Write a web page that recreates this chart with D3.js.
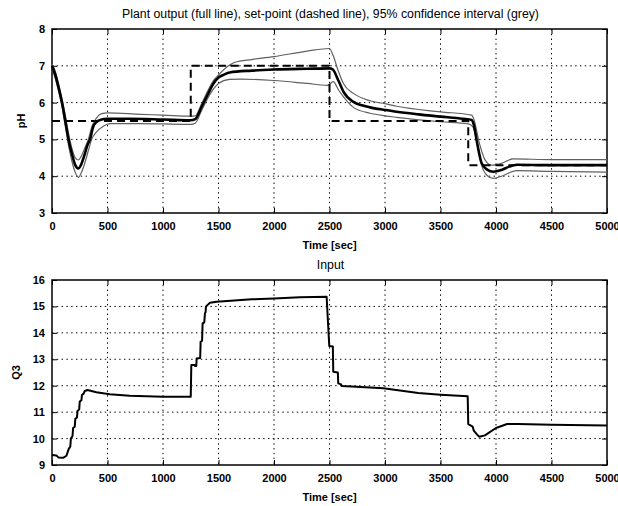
<!DOCTYPE html>
<html>
<head>
<meta charset="utf-8">
<script src="https://cdn.jsdelivr.net/npm/d3@7"></script>
<style>
  body { margin: 0; background: #fff; }
  svg { font-family: "Liberation Sans", Arial, sans-serif; }
  .tick text { font-size: 11px; font-weight: bold; fill: #000; }
  .grid line { stroke: #000; stroke-width: 1; stroke-dasharray: 1.4,3.4; }
</style>
</head>
<body>
<svg width="618" height="506"></svg>
<script>
// plant output (pH) and its confidence band
const tOut = [0,30,60,90,120,150,180,210,237,260,290,320,342,372,400,432,500,700,1000,1250,1290,1350,1400,1450,1500,1550,1600,1800,2000,2300,2500,2530,2580,2625,2715,2800,2865,3000,3105,3300,3500,3700,3780,3800,3830,3871,3920,3976,4050,4120,4186,4500,5000];
const pHOut = [7.0,6.75,6.4,6.0,5.5,4.98,4.6,4.3,4.21,4.3,4.55,4.85,5.0,5.35,5.47,5.53,5.56,5.56,5.54,5.52,5.55,5.9,6.2,6.5,6.68,6.76,6.82,6.87,6.9,6.92,6.93,6.9,6.6,6.3,6.02,5.92,5.87,5.8,5.75,5.68,5.62,5.56,5.53,5.4,4.9,4.35,4.18,4.12,4.17,4.26,4.31,4.3,4.3];

const tUp = [0,30,60,90,120,150,180,210,237,265,300,327,360,400,447,500,800,1000,1250,1290,1350,1400,1450,1500,1600,1664,1800,2000,2300,2500,2530,2580,2625,2715,2865,3000,3105,3500,3780,3800,3850,3900,3960,4050,4153,4500,5000];
const pHUp = [7.05,6.85,6.5,6.1,5.65,5.15,4.75,4.5,4.44,4.55,4.8,5.0,5.35,5.58,5.7,5.72,5.68,5.66,5.63,5.64,5.98,6.3,6.58,6.75,7.02,7.11,7.17,7.25,7.4,7.47,7.3,6.85,6.52,6.25,6.05,5.97,5.9,5.75,5.66,5.55,4.9,4.45,4.3,4.35,4.47,4.45,4.45];

const tLo = [0,30,60,90,120,150,180,210,237,265,300,330,357,400,462,520,800,1000,1250,1290,1350,1400,1450,1500,1600,1700,2000,2300,2480,2535,2580,2625,2715,2865,3000,3105,3500,3750,3790,3830,3870,3920,3976,4050,4186,4500,5000];
const pHLo = [6.95,6.65,6.3,5.9,5.35,4.82,4.4,4.1,3.97,4.1,4.4,4.72,5.0,5.2,5.36,5.43,5.43,5.42,5.41,5.44,5.8,6.1,6.35,6.52,6.63,6.64,6.6,6.52,6.47,6.57,6.35,6.16,5.87,5.71,5.64,5.6,5.48,5.42,5.35,4.9,4.3,4.02,3.94,4.0,4.15,4.13,4.11];

// set-point
const tSp = [0,1250,2500,3750,5000];
const pHSp = [5.5,7,5.5,4.3,4.3];

// input Q3
const tQ3 = [0,40,60,100,130,150,165,170,185,190,205,210,225,230,245,250,265,270,285,295,320,400,520,700,1000,1250,1255,1285,1288,1300,1303,1335,1339,1352,1357,1372,1378,1384,1387,1400,1423,1483,1800,2000,2234,2474,2498,2530,2534,2575,2579,2605,2610,2700,2985,3300,3500,3745,3750,3790,3800,3830,3850,3900,4000,4100,4200,4500,5000];
const vQ3 = [9.38,9.36,9.28,9.27,9.35,9.6,9.7,10.0,10.1,10.4,10.45,10.75,10.8,11.05,11.1,11.4,11.45,11.65,11.7,11.8,11.84,11.75,11.68,11.62,11.58,11.58,12.78,12.78,12.75,12.75,13.03,13.05,13.67,13.7,14.36,14.4,14.74,14.78,14.99,15.05,15.14,15.18,15.27,15.3,15.35,15.37,13.5,13.48,12.53,12.5,12.09,12.05,11.99,11.97,11.9,11.72,11.66,11.6,10.55,10.45,10.3,10.15,10.07,10.12,10.4,10.55,10.55,10.52,10.49];

const xTicks = d3.range(0, 5001, 500);

const svg = d3.select("svg");
const left = 52, right = 607;

function panel(top, bottom, yDomain, yTicks, title, ylab, ylabX) {
  const x = d3.scaleLinear().domain([0, 5000]).range([left, right]);
  const y = d3.scaleLinear().domain(yDomain).range([bottom, top]);
  const g = svg.append("g");

  // dotted grid
  g.append("g").attr("class", "grid")
    .selectAll("line.v").data(xTicks.slice(1, -1)).join("line")
    .attr("x1", d => x(d)).attr("x2", d => x(d)).attr("y1", top).attr("y2", bottom);
  g.append("g").attr("class", "grid")
    .selectAll("line.h").data(yTicks.slice(1, -1)).join("line")
    .attr("x1", left).attr("x2", right).attr("y1", d => y(d)).attr("y2", d => y(d));

  // axes with inward ticks
  g.append("g").attr("transform", `translate(0,${bottom})`)
    .call(d3.axisBottom(x).tickValues(xTicks).tickSize(-5).tickPadding(9).tickFormat(d3.format("d")));
  g.append("g").attr("transform", `translate(${left},0)`)
    .call(d3.axisLeft(y).tickValues(yTicks).tickSize(-5).tickPadding(7).tickFormat(d3.format("d")));
  g.append("g").attr("transform", `translate(0,${top})`)
    .call(d3.axisTop(x).tickValues(xTicks).tickSize(-5).tickFormat(""));
  g.append("g").attr("transform", `translate(${right},0)`)
    .call(d3.axisRight(y).tickValues(yTicks).tickSize(-5).tickFormat(""));
  g.selectAll(".domain").remove();
  g.selectAll(".tick line").attr("stroke", "#000").attr("stroke-width", 1);

  g.append("rect").attr("x", left).attr("y", top)
    .attr("width", right - left).attr("height", bottom - top)
    .attr("fill", "none").attr("stroke", "#000").attr("stroke-width", 1.5);

  g.append("text").attr("x", (left + right) / 2 + 1).attr("y", top - 11)
    .attr("text-anchor", "middle").attr("font-size", 12.3).text(title);
  g.append("text").attr("x", (left + right) / 2).attr("y", bottom + 36)
    .attr("text-anchor", "middle").attr("font-size", 11).attr("font-weight", "bold").text("Time [sec]");
  g.append("text").attr("transform", `translate(${ylabX},${(top + bottom) / 2}) rotate(-90)`)
    .attr("text-anchor", "middle").attr("font-size", 11).attr("font-weight", "bold").text(ylab);

  return { x, y, g };
}

const p1 = panel(29, 213, [3, 8], d3.range(3, 9),
  "Plant output (full line), set-point (dashed line), 95% confidence interval (grey)", "pH", 25);
const p2 = panel(280, 465, [9, 16], d3.range(9, 17), "Input", "Q3", 20);

function draw(p, ts, vs, curve, stroke, width, dash) {
  const line = d3.line().x(d => p.x(d[0])).y(d => p.y(d[1])).curve(curve);
  p.g.append("path").datum(ts.map((t, i) => [t, vs[i]]))
    .attr("d", line).attr("fill", "none")
    .attr("stroke", stroke).attr("stroke-width", width)
    .attr("stroke-linejoin", "round")
    .attr("stroke-dasharray", dash || null);
}

draw(p1, tUp, pHUp, d3.curveMonotoneX, "#606060", 1.2);
draw(p1, tLo, pHLo, d3.curveMonotoneX, "#606060", 1.2);
draw(p1, tSp, pHSp, d3.curveStepAfter, "#000", 2, "8,5");
draw(p1, tOut, pHOut, d3.curveMonotoneX, "#000", 2.6);
draw(p2, tQ3, vQ3, d3.curveLinear, "#000", 2);
</script>
</body>
</html>
